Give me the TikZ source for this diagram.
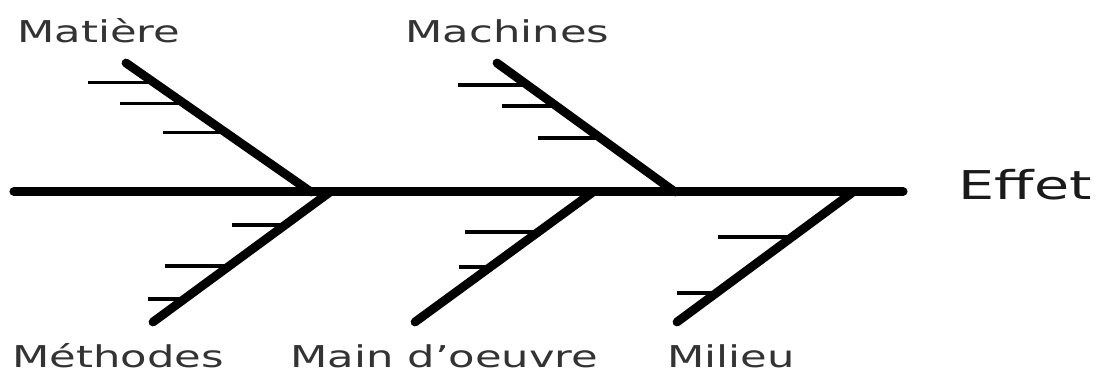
\documentclass[tikz,border=0pt]{standalone}
\usepackage{fontspec}
\setmainfont{DejaVu Sans}
\usepackage{xcolor}
\usetikzlibrary{calc}
\definecolor{causegrey}{HTML}{333333}
\definecolor{effectdark}{HTML}{1A1A1A}

\begin{document}
\begin{tikzpicture}[x=0.02cm, y=-0.02cm,
    spine/.style={line width=5.2pt, line cap=round},
    bone/.style={line width=5pt, line cap=round},
    rib/.style={line width=1.8pt},
    cause/.style={font=\fontsize{17.1}{20}\selectfont, text=causegrey,
                  inner sep=0pt, anchor=base west, xscale=1.44},
  ]
  \useasboundingbox (0,0) rectangle (1099,372);

  % spine and effect
  \coordinate (tail) at (14,191.5);
  \coordinate (head) at (903,191.5);
  \draw[spine] (tail) -- (head);
  \node[cause, font=\fontsize{22.6}{26}\selectfont, text=effectdark] (effet)
    at (958,199) {Effet};

  % bones: upper end (a), lower end (b)
  \coordinate (mat-a) at (126,63);  \coordinate (mat-b) at (311,192);
  \coordinate (mac-a) at (497,63);  \coordinate (mac-b) at (675,192);
  \coordinate (met-a) at (330,192); \coordinate (met-b) at (153,322);
  \coordinate (mo-a)  at (593,192); \coordinate (mo-b)  at (415,322);
  \coordinate (mil-a) at (853,192); \coordinate (mil-b) at (677,322);
  \foreach \bn in {mat, mac, met, mo, mil}
    \draw[bone] (\bn-a) -- (\bn-b);

  % ribs: bone / position along it / left end
  \foreach \bn/\f/\x in {mat/0.150/88, mat/0.312/120, mat/0.537/163,
                         mac/0.171/458, mac/0.333/502, mac/0.581/538,
                         met/0.254/232, met/0.569/165, met/0.823/148,
                         mo/0.308/465, mo/0.577/459,
                         mil/0.346/718, mil/0.777/677}{
    \coordinate (r) at ($(\bn-a)!\f!(\bn-b)$);
    \coordinate (s) at (\x,0);
    \draw[rib] (r) -- (r -| s);
  }

  % causes
  \node[cause] (matiere)     at (17,42)   {Matière};
  \node[cause] (machines)    at (405,42)  {Machines};
  \node[cause] (methodes)    at (12,367)  {Méthodes};
  \node[cause] (maindoeuvre) at (290,367) {Main d’oeuvre};
  \node[cause] (milieu)      at (667,367) {Milieu};
\end{tikzpicture}
\end{document}
